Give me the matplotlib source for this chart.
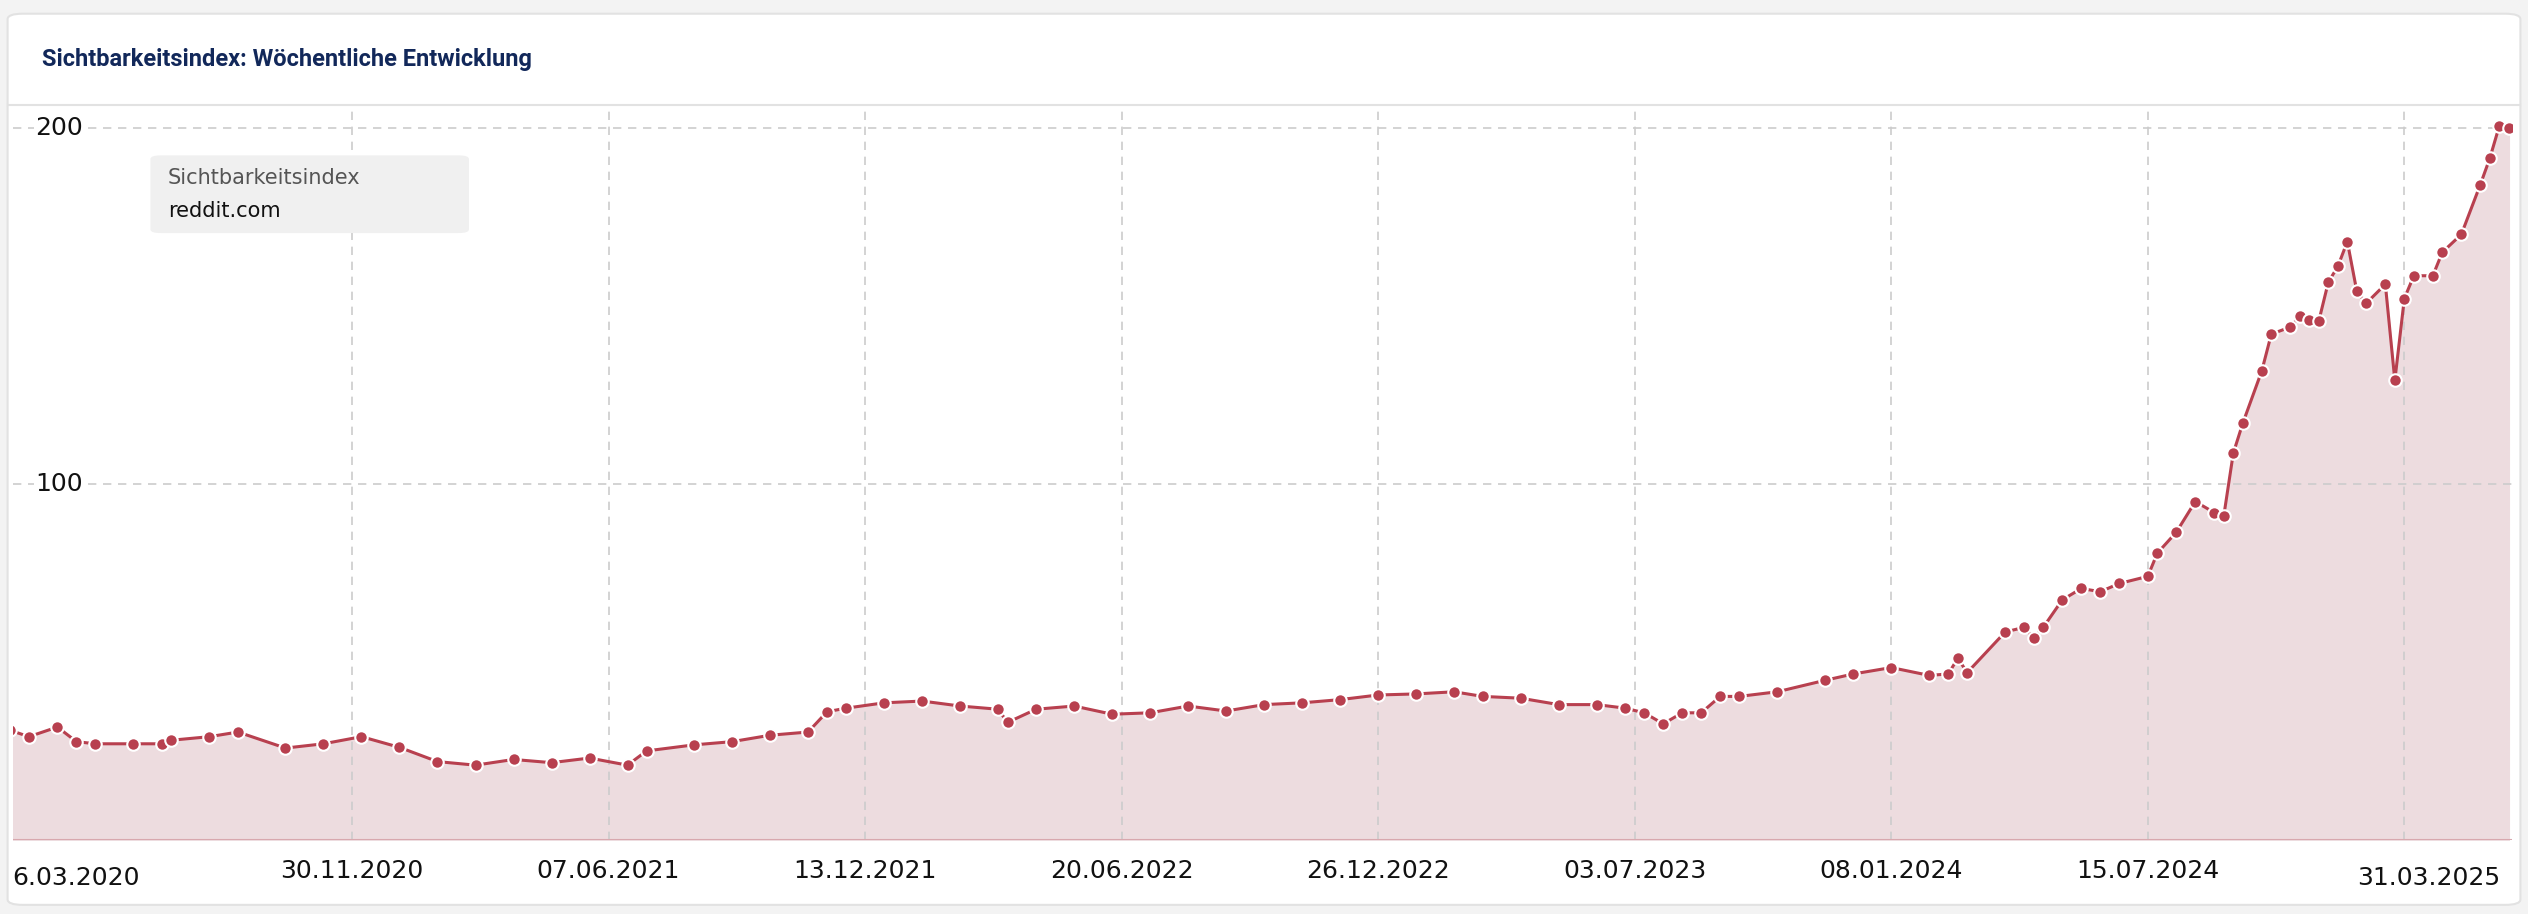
import matplotlib
matplotlib.use("Agg")
import matplotlib.pyplot as plt
import matplotlib.dates as mdates
from matplotlib.patches import FancyBboxPatch
import datetime as dt

start = dt.date(2020, 3, 16)
weeks = [1,3,6,8,10,14,17,18,22,25,30,34,38,42,46,50,54,58,62,66,68,73,77,81,85,87,89,93,97,101,105,106,109,113,117,121,125,129,133,137,141,145,149,153,156,160,164,168,171,173,175,177,179,181,183,187,192,195,199,203,205,206,207,211,213,214,215,217,219,221,223,226,227,229,231,233,234,235,236,238,239,241,242,243,244,245,246,247,248,249,251,252,253,254,256,257,259,261,262,263,264]
values = [30.8,29,31.7,27.6,27,27,27,28,29,30.3,25.8,27,29,26,22,21,22.6,21.7,23,21,25,26.7,27.6,29.4,30.3,36,37,38.5,39,37.6,36.7,33,36.7,37.6,35.3,35.7,37.6,36.2,38,38.5,39.4,40.7,41,41.6,40.3,39.8,38,38,37,35.7,32.6,35.7,35.7,40.3,40.3,41.6,44.8,46.6,48.4,46.2,46.6,51,47,58.4,59.7,56.6,59.7,67.4,70.6,69.7,72,74,80.5,86.4,95,91.9,91,108.6,117,131.7,142,144,147,146,145.7,156.6,161,168,154,150.7,156,129,152,158.4,158.4,165,170,184,191.4,200.5,200]
dates = [start + dt.timedelta(weeks=w) for w in weeks]

grid_dates = [dt.date(2020,11,30), dt.date(2021,6,7), dt.date(2021,12,13), dt.date(2022,6,20),
              dt.date(2022,12,26), dt.date(2023,7,3), dt.date(2024,1,8), dt.date(2024,7,15), dt.date(2025,1,20)]
label_dates = [dt.date(2020,11,30), dt.date(2021,6,7), dt.date(2021,12,13), dt.date(2022,6,20),
               dt.date(2022,12,26), dt.date(2023,7,3), dt.date(2024,1,8), dt.date(2024,7,15)]

LINE = "#b8404f"
FILL = "#eddcdf"

fig = plt.figure(figsize=(25.28, 9.14), dpi=100, facecolor="#f3f3f3")
card = FancyBboxPatch((0.003, 0.01), 0.994, 0.975, boxstyle="round,pad=0,rounding_size=0.006",
                      transform=fig.transFigure, facecolor="white", edgecolor="#e2e2e2", lw=1.5, zorder=-10)
fig.patches.append(card)
fig.text(0.0165, 0.935, "Sichtbarkeitsindex: Wöchentliche Entwicklung", fontsize=17,
         fontweight="bold", color="#12285a", va="center", family="Roboto")
fig.add_artist(plt.Line2D([0.003, 0.997], [0.885, 0.885], transform=fig.transFigure, color="#e2e2e2", lw=1.5))

ax = fig.add_axes([0.005, 0.081, 0.9885, 0.804])
ax.set_facecolor("none")
x0 = mdates.date2num(start + dt.timedelta(weeks=1.35))
x1 = mdates.date2num(start + dt.timedelta(weeks=264.3))
ax.set_xlim(x0, x1)
ax.set_ylim(0, 206.3)
xd = mdates.date2num(dates)
ax.fill_between(xd, values, 0, color=FILL, zorder=1)
ax.plot(xd, values, color=LINE, lw=2.2, zorder=3, marker="o", markersize=9,
        markerfacecolor=LINE, markeredgecolor="white", markeredgewidth=1.5)
for g in grid_dates:
    ax.axvline(mdates.date2num(g), color="#cccccc", ls=(0, (5, 4)), lw=1.2, zorder=2)
for yv in (100, 200):
    ax.axhline(yv, color="#cccccc", ls=(0, (5, 4)), lw=1.2, zorder=2)
    ax.text(0.009, yv, str(yv), transform=ax.get_yaxis_transform(), fontsize=18,
            va="center", ha="left", color="#111111", zorder=4,
            bbox=dict(facecolor="white", edgecolor="none", pad=1))
ax.axhline(0, color="#d8a8ae", lw=1.5, zorder=3)
ax.set_xticks(mdates.date2num(label_dates))
ax.set_xticklabels([d.strftime("%d.%m.%Y") for d in label_dates], fontsize=18, color="#111111")
ax.tick_params(axis="x", length=0, pad=14)
ax.set_yticks([])
for s in ax.spines.values():
    s.set_visible(False)
ax.text(0.0, -0.035, "6.03.2020", transform=ax.transAxes, fontsize=18, ha="left", va="top", color="#111111")
ax.text(mdates.date2num(dt.date(2025, 3, 31)) + 1, -0.035, "31.03.2025",
        transform=ax.get_xaxis_transform(), fontsize=18, ha="right", va="top", color="#111111")

lg = FancyBboxPatch((0.0595, 0.745), 0.126, 0.085, boxstyle="round,pad=0,rounding_size=0.004",
                    transform=fig.transFigure, facecolor="#f0f0f0", edgecolor="none", zorder=5)
fig.patches.append(lg)
fig.text(0.0665, 0.805, "Sichtbarkeitsindex", fontsize=15, color="#555555", va="center", zorder=6)
fig.text(0.0665, 0.769, "reddit.com", fontsize=15, color="#111111", va="center", zorder=6)

fig.savefig("out.png", dpi=100, facecolor=fig.get_facecolor())
